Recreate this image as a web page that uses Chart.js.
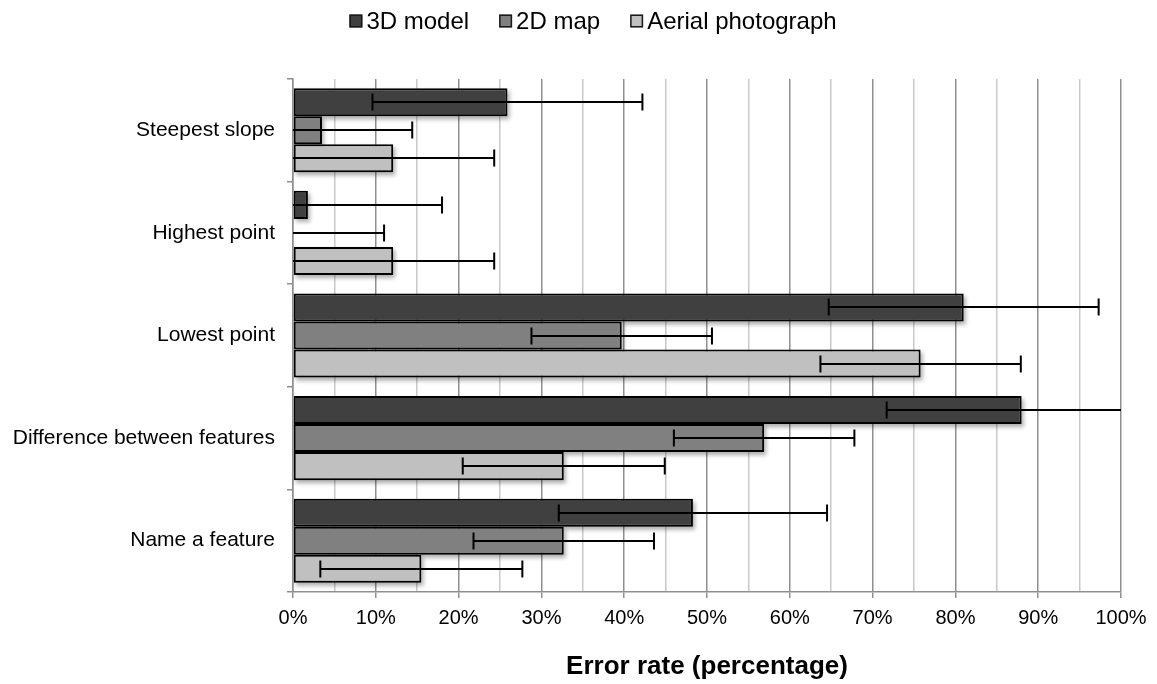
<!DOCTYPE html>
<html>
<head>
<meta charset="utf-8">
<title>Error rate by task and representation</title>
<script src="https://cdn.jsdelivr.net/npm/chart.js@4/dist/chart.umd.min.js"></script>
<style>
  html, body { margin: 0; padding: 0; background: #ffffff; }
  #chart { display: block; }
</style>
</head>
<body>
<canvas id="chart" width="1157" height="684"></canvas>
<script>
// Tasks (top to bottom)
const categories = [
  'Steepest slope',
  'Highest point',
  'Lowest point',
  'Difference between features',
  'Name a feature'
];

// Series names
const seriesNames = ['3D model', '2D map', 'Aerial photograph'];

// Mean error rate (%) per task
const model3d = [25.9, 1.8, 81.0, 88.0, 48.3];
const map2d   = [3.5, 0.0, 39.7, 56.9, 32.7];
const aerial  = [12.1, 12.1, 75.8, 32.7, 15.5];

// Error bar half-widths (%)
const model3dErr = [16.3, 16.2, 16.3, 16.3, 16.2];
const map2dErr   = [10.9, 11.0, 10.9, 10.9, 10.9];
const aerialErr  = [12.2, 12.2, 12.1, 12.2, 12.2];

// Axis ticks (%)
const xTicks = [0, 10, 20, 30, 40, 50, 60, 70, 80, 90, 100];

const FONT = '"Liberation Sans", Arial, Helvetica, sans-serif';
const fills = ['#404040', '#808080', '#c0c0c0'];

// Soft drop shadow behind every bar
const barShadow = {
  id: 'barShadow',
  beforeDatasetsDraw(chart) {
    const ctx = chart.ctx;
    const area = chart.chartArea;
    ctx.save();
    ctx.beginPath();
    ctx.rect(area.left, area.top, area.right - area.left + 8, area.bottom - area.top);
    ctx.clip();
    ctx.filter = 'blur(2px)';
    ctx.fillStyle = 'rgba(0,0,0,0.32)';
    chart.data.datasets.forEach((ds, di) => {
      const meta = chart.getDatasetMeta(di);
      meta.data.forEach(bar => {
        const w = bar.x - bar.base;
        if (w <= 0.5) return;
        ctx.fillRect(bar.base + 2, bar.y - bar.height / 2 + 3, w, bar.height);
      });
    });
    ctx.restore();
  }
};

// Horizontal error bars with end caps
const errorBars = {
  id: 'errorBars',
  afterDatasetsDraw(chart) {
    const ctx = chart.ctx;
    const xs = chart.scales.x;
    const area = chart.chartArea;
    ctx.save();
    ctx.strokeStyle = '#000000';
    ctx.lineWidth = 2;
    chart.data.datasets.forEach((ds, di) => {
      const meta = chart.getDatasetMeta(di);
      meta.data.forEach((bar, i) => {
        const v = ds.data[i];
        const e = ds.errors[i];
        const lo = v - e, hi = v + e;
        const x1 = Math.max(xs.getPixelForValue(Math.max(lo, xs.min)), area.left);
        const x2 = Math.min(xs.getPixelForValue(Math.min(hi, xs.max)), area.right);
        const y = Math.round(bar.y);
        const cap = bar.height * 0.3;
        ctx.beginPath();
        ctx.moveTo(x1, y);
        ctx.lineTo(x2, y);
        if (lo >= xs.min) { ctx.moveTo(x1, y - cap); ctx.lineTo(x1, y + cap); }
        if (hi <= xs.max) { ctx.moveTo(x2, y - cap); ctx.lineTo(x2, y + cap); }
        ctx.stroke();
      });
    });
    ctx.restore();
  }
};

// Series key across the top
const seriesKey = {
  id: 'seriesKey',
  afterDraw(chart) {
    const ctx = chart.ctx;
    const size = 24, box = 13, gapBox = 4, gapItem = 30;
    const centerX = 593, centerY = 21;
    ctx.save();
    ctx.font = size + 'px ' + FONT;
    const widths = chart.data.datasets.map(ds => ctx.measureText(ds.label).width);
    const total = widths.reduce((a, w) => a + box + gapBox + w, 0) + gapItem * (widths.length - 1);
    let x = centerX - total / 2;
    chart.data.datasets.forEach((ds, i) => {
      ctx.fillStyle = ds.backgroundColor;
      ctx.fillRect(x, centerY - box / 2, box, box);
      ctx.strokeStyle = '#1a1a1a';
      ctx.lineWidth = 1.5;
      ctx.strokeRect(x + 0.75, centerY - box / 2 + 0.75, box - 1.5, box - 1.5);
      ctx.fillStyle = '#000000';
      ctx.textBaseline = 'middle';
      ctx.textAlign = 'left';
      ctx.fillText(ds.label, x + box + gapBox, centerY + 1);
      x += box + gapBox + widths[i] + gapItem;
    });
    ctx.restore();
  }
};

const seriesValues = [model3d, map2d, aerial];
const seriesErrors = [model3dErr, map2dErr, aerialErr];

new Chart(document.getElementById('chart'), {
  type: 'bar',
  data: {
    labels: categories,
    datasets: seriesNames.map((name, i) => ({
      label: name,
      data: seriesValues[i],
      errors: seriesErrors[i],
      backgroundColor: fills[i],
      borderColor: '#000000',
      borderWidth: 2,
      borderSkipped: false,
      categoryPercentage: 0.82,
      barPercentage: 1.0
    }))
  },
  options: {
    indexAxis: 'y',
    responsive: false,
    animation: false,
    events: [],
    layout: { padding: { top: 79, right: 36, left: 0, bottom: 0 } },
    plugins: {
      legend: { display: false },
      tooltip: { enabled: false }
    },
    scales: {
      x: {
        type: 'linear',
        min: 0,
        max: 100,
        afterBuildTicks(scale) {
          const t = [];
          for (let v = 0; v <= 100; v += 5) t.push({ value: v });
          scale.ticks = t;
        },
        ticks: {
          autoSkip: false,
          maxRotation: 0,
          color: '#000000',
          font: { family: FONT, size: 20 },
          padding: 8,
          callback: v => xTicks.includes(v) ? v + '%' : ''
        },
        grid: {
          color: c => (c.tick && c.tick.value % 10 === 0) ? '#8f8f8f' : '#c9c9c9',
          lineWidth: 1.5,
          tickLength: 6,
          tickColor: c => (c.tick && c.tick.value % 10 === 0) ? '#8f8f8f' : 'rgba(0,0,0,0)',
          tickWidth: 1.5
        },
        border: { color: '#8f8f8f', width: 1.5 },
        title: {
          display: true,
          text: 'Error rate (percentage)',
          color: '#000000',
          font: { family: FONT, size: 26, weight: 'bold' },
          padding: { top: 0, bottom: 2 }
        },
        afterFit(scale) { scale.height = 92; }
      },
      y: {
        type: 'category',
        offset: true,
        grid: {
          offset: true,
          drawOnChartArea: false,
          tickLength: 6,
          color: '#8f8f8f',
          lineWidth: 1.5
        },
        border: { color: '#8f8f8f', width: 1.5 },
        ticks: {
          color: '#000000',
          font: { family: FONT, size: 21 },
          padding: 12
        },
        afterFit(scale) { scale.width = 293; }
      }
    }
  },
  plugins: [barShadow, errorBars, seriesKey]
});
</script>
</body>
</html>
